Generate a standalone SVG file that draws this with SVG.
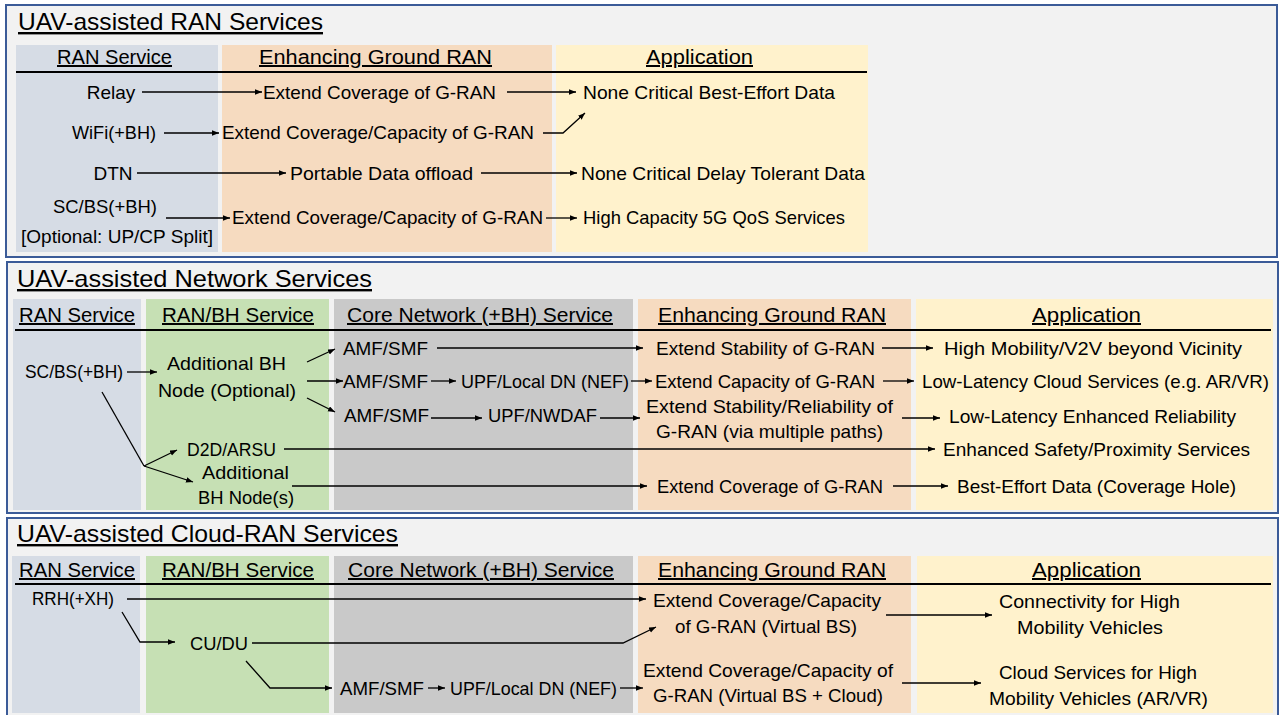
<svg xmlns="http://www.w3.org/2000/svg" width="1280" height="715" viewBox="0 0 1280 715">
<style>
text{font-family:"Liberation Sans",Arial,sans-serif;fill:#000}
.t{font-size:24px;text-decoration:underline}
.h{font-size:20px;text-decoration:underline}
.b{font-size:19px}
.m{font-size:19px;text-anchor:middle}
.panel{fill:#f2f2f2;stroke:#3b5b98;stroke-width:2}
.cb{fill:#d6dce5}.cp{fill:#f6dbc0}.cy{fill:#fff2cc}.cg{fill:#c6e0b4}.cgr{fill:#c9c9c9}
.hl{stroke:#000;stroke-width:2}
.c{fill:none;stroke:#000;stroke-width:1.3;marker-end:url(#a)}
.p{fill:none;stroke:#000;stroke-width:1.3}
</style>
<defs>
<marker id="a" markerUnits="userSpaceOnUse" markerWidth="8" markerHeight="6" refX="7" refY="2.75" orient="auto">
<path d="M0,0 L7,2.75 L0,5.5 z" fill="#000"/>
</marker>
</defs>

<g id="panel-ran">
<rect class="panel" x="6" y="5" width="1271" height="252"/>
<text class="t" x="18" y="30" textLength="305" lengthAdjust="spacingAndGlyphs">UAV-assisted RAN Services</text>
<rect class="cb" x="16" y="45" width="202" height="207"/>
<rect class="cp" x="222" y="45" width="330" height="207"/>
<rect class="cy" x="556" y="45" width="312" height="207"/>
<line class="hl" x1="16" y1="72" x2="867" y2="72"/>
<text class="h" x="57" y="64" textLength="115" lengthAdjust="spacingAndGlyphs">RAN Service</text>
<text class="h" x="259" y="64" textLength="233" lengthAdjust="spacingAndGlyphs">Enhancing Ground RAN</text>
<text class="h" x="646" y="64" textLength="107" lengthAdjust="spacingAndGlyphs">Application</text>
</g>

<g id="panel-network">
<rect class="panel" x="7" y="262" width="1271" height="251"/>
<text class="t" x="17" y="287" textLength="355" lengthAdjust="spacingAndGlyphs">UAV-assisted Network Services</text>
<rect class="cb" x="13" y="299" width="128" height="211"/>
<rect class="cg" x="146" y="299" width="183" height="211"/>
<rect class="cgr" x="334" y="299" width="299" height="211"/>
<rect class="cp" x="638" y="299" width="273" height="211"/>
<rect class="cy" x="916" y="299" width="357" height="211"/>
<line class="hl" x1="15" y1="330" x2="1271" y2="330"/>
<text class="h" x="19" y="322" textLength="116" lengthAdjust="spacingAndGlyphs">RAN Service</text>
<text class="h" x="162" y="322" textLength="152" lengthAdjust="spacingAndGlyphs">RAN/BH Service</text>
<text class="h" x="347" y="322" textLength="266" lengthAdjust="spacingAndGlyphs">Core Network (+BH) Service</text>
<text class="h" x="658" y="322" textLength="228" lengthAdjust="spacingAndGlyphs">Enhancing Ground RAN</text>
<text class="h" x="1032" y="322" textLength="109" lengthAdjust="spacingAndGlyphs">Application</text>
</g>

<g id="panel-cloud">
<rect class="panel" x="7" y="518" width="1271" height="205"/>
<text class="t" x="17" y="542" textLength="381" lengthAdjust="spacingAndGlyphs">UAV-assisted Cloud-RAN Services</text>
<rect class="cb" x="12" y="556" width="128" height="157"/>
<rect class="cg" x="146" y="556" width="183" height="157"/>
<rect class="cgr" x="334" y="556" width="299" height="157"/>
<rect class="cp" x="638" y="556" width="273" height="157"/>
<rect class="cy" x="917" y="556" width="356" height="157"/>
<line class="hl" x1="15" y1="584" x2="1271" y2="584"/>
<text class="h" x="19" y="577" textLength="116" lengthAdjust="spacingAndGlyphs">RAN Service</text>
<text class="h" x="162" y="577" textLength="152" lengthAdjust="spacingAndGlyphs">RAN/BH Service</text>
<text class="h" x="348" y="577" textLength="266" lengthAdjust="spacingAndGlyphs">Core Network (+BH) Service</text>
<text class="h" x="658" y="577" textLength="228" lengthAdjust="spacingAndGlyphs">Enhancing Ground RAN</text>
<text class="h" x="1032" y="577" textLength="109" lengthAdjust="spacingAndGlyphs">Application</text>
</g>

<!-- Panel 1 nodes -->
<g id="p1-relay"><text class="m" x="111" y="99">Relay</text></g>
<g id="p1-wifi"><text class="b" x="72" y="139" textLength="84" lengthAdjust="spacingAndGlyphs">WiFi(+BH)</text></g>
<g id="p1-dtn"><text class="m" x="113" y="180">DTN</text></g>
<g id="p1-scbs"><text class="b" x="53" y="213" textLength="104" lengthAdjust="spacingAndGlyphs">SC/BS(+BH)</text><text class="b" x="21" y="243" textLength="192" lengthAdjust="spacingAndGlyphs">[Optional: UP/CP Split]</text></g>
<g id="p1-ext-cov"><text class="b" x="263" y="99" textLength="233" lengthAdjust="spacingAndGlyphs">Extend Coverage of G-RAN</text></g>
<g id="p1-ext-covcap1"><text class="b" x="222" y="139" textLength="312" lengthAdjust="spacingAndGlyphs">Extend Coverage/Capacity of G-RAN</text></g>
<g id="p1-offload"><text class="b" x="290" y="180" textLength="183" lengthAdjust="spacingAndGlyphs">Portable Data offload</text></g>
<g id="p1-ext-covcap2"><text class="b" x="232" y="224" textLength="311" lengthAdjust="spacingAndGlyphs">Extend Coverage/Capacity of G-RAN</text></g>
<g id="p1-besteffort"><text class="b" x="583" y="99" textLength="252" lengthAdjust="spacingAndGlyphs">None Critical Best-Effort Data</text></g>
<g id="p1-delay"><text class="b" x="581" y="180" textLength="284" lengthAdjust="spacingAndGlyphs">None Critical Delay Tolerant Data</text></g>
<g id="p1-5g"><text class="b" x="583" y="224" textLength="262" lengthAdjust="spacingAndGlyphs">High Capacity 5G QoS Services</text></g>

<!-- Panel 2 nodes -->
<g id="p2-scbs"><text class="b" x="25" y="378" textLength="98" lengthAdjust="spacingAndGlyphs">SC/BS(+BH)</text></g>
<g id="p2-addbh"><text class="b" x="167" y="370" textLength="119" lengthAdjust="spacingAndGlyphs">Additional BH</text><text class="b" x="158" y="397" textLength="138" lengthAdjust="spacingAndGlyphs">Node (Optional)</text></g>
<g id="p2-d2d"><text class="b" x="187" y="456" textLength="89" lengthAdjust="spacingAndGlyphs">D2D/ARSU</text></g>
<g id="p2-addbhs"><text class="b" x="202" y="479" textLength="87" lengthAdjust="spacingAndGlyphs">Additional</text><text class="b" x="198" y="504" textLength="96" lengthAdjust="spacingAndGlyphs">BH Node(s)</text></g>
<g id="p2-amf1"><text class="b" x="343" y="355" textLength="85" lengthAdjust="spacingAndGlyphs">AMF/SMF</text></g>
<g id="p2-amf2"><text class="b" x="343" y="388" textLength="85" lengthAdjust="spacingAndGlyphs">AMF/SMF</text></g>
<g id="p2-upf-dn"><text class="b" x="461" y="388" textLength="168" lengthAdjust="spacingAndGlyphs">UPF/Local DN (NEF)</text></g>
<g id="p2-amf3"><text class="b" x="344" y="422" textLength="85" lengthAdjust="spacingAndGlyphs">AMF/SMF</text></g>
<g id="p2-upf-nwdaf"><text class="b" x="488" y="422" textLength="109" lengthAdjust="spacingAndGlyphs">UPF/NWDAF</text></g>
<g id="p2-ext-stab"><text class="b" x="656" y="355" textLength="219" lengthAdjust="spacingAndGlyphs">Extend Stability of G-RAN</text></g>
<g id="p2-ext-cap"><text class="b" x="655" y="388" textLength="220" lengthAdjust="spacingAndGlyphs">Extend Capacity of G-RAN</text></g>
<g id="p2-ext-rel"><text class="b" x="646" y="413" textLength="247" lengthAdjust="spacingAndGlyphs">Extend Stability/Reliability of</text><text class="b" x="656" y="438" textLength="227" lengthAdjust="spacingAndGlyphs">G-RAN (via multiple paths)</text></g>
<g id="p2-ext-cov"><text class="b" x="657" y="493" textLength="226" lengthAdjust="spacingAndGlyphs">Extend Coverage of G-RAN</text></g>
<g id="p2-mobility"><text class="b" x="944" y="355" textLength="298" lengthAdjust="spacingAndGlyphs">High Mobility/V2V beyond Vicinity</text></g>
<g id="p2-cloud"><text class="b" x="922" y="388" textLength="347" lengthAdjust="spacingAndGlyphs">Low-Latency Cloud Services (e.g. AR/VR)</text></g>
<g id="p2-reliab"><text class="b" x="949" y="423" textLength="287" lengthAdjust="spacingAndGlyphs">Low-Latency Enhanced Reliability</text></g>
<g id="p2-safety"><text class="b" x="943" y="456" textLength="307" lengthAdjust="spacingAndGlyphs">Enhanced Safety/Proximity Services</text></g>
<g id="p2-hole"><text class="b" x="957" y="493" textLength="279" lengthAdjust="spacingAndGlyphs">Best-Effort Data (Coverage Hole)</text></g>

<!-- Panel 3 nodes -->
<g id="p3-rrh"><text class="b" x="32" y="605" textLength="82" lengthAdjust="spacingAndGlyphs">RRH(+XH)</text></g>
<g id="p3-cudu"><text class="b" x="190" y="650" textLength="58" lengthAdjust="spacingAndGlyphs">CU/DU</text></g>
<g id="p3-amf"><text class="b" x="340" y="695" textLength="84" lengthAdjust="spacingAndGlyphs">AMF/SMF</text></g>
<g id="p3-upf"><text class="b" x="450" y="695" textLength="167" lengthAdjust="spacingAndGlyphs">UPF/Local DN (NEF)</text></g>
<g id="p3-ext-vbs"><text class="b" x="653" y="607" textLength="228" lengthAdjust="spacingAndGlyphs">Extend Coverage/Capacity</text><text class="b" x="675" y="633" textLength="182" lengthAdjust="spacingAndGlyphs">of G-RAN (Virtual BS)</text></g>
<g id="p3-ext-vbsc"><text class="b" x="643" y="677" textLength="250" lengthAdjust="spacingAndGlyphs">Extend Coverage/Capacity of</text><text class="b" x="653" y="702" textLength="230" lengthAdjust="spacingAndGlyphs">G-RAN (Virtual BS + Cloud)</text></g>
<g id="p3-conn"><text class="b" x="999" y="608" textLength="181" lengthAdjust="spacingAndGlyphs">Connectivity for High</text><text class="b" x="1017" y="634" textLength="146" lengthAdjust="spacingAndGlyphs">Mobility Vehicles</text></g>
<g id="p3-cloudsvc"><text class="b" x="999" y="679" textLength="198" lengthAdjust="spacingAndGlyphs">Cloud Services for High</text><text class="b" x="989" y="705" textLength="219" lengthAdjust="spacingAndGlyphs">Mobility Vehicles (AR/VR)</text></g>

<g id="connectors">
<line class="c" x1="142" y1="92" x2="262" y2="92"/>
<line class="c" x1="507" y1="92" x2="576" y2="92"/>
<line class="c" x1="164" y1="133" x2="219" y2="133"/>
<polyline class="c" points="543,133 563,133 585,113"/>
<line class="c" x1="137" y1="173" x2="286" y2="173"/>
<line class="c" x1="481" y1="173" x2="577" y2="173"/>
<line class="c" x1="166" y1="218" x2="230" y2="218"/>
<line class="c" x1="546" y1="218" x2="577" y2="218"/>

<line class="c" x1="127" y1="372" x2="157" y2="372"/>
<line class="c" x1="307" y1="362" x2="335" y2="349"/>
<line class="c" x1="307" y1="381" x2="343" y2="381"/>
<line class="c" x1="307" y1="398" x2="335" y2="412"/>
<line class="c" x1="437" y1="348" x2="643" y2="348"/>
<line class="c" x1="431" y1="381" x2="456" y2="381"/>
<line class="c" x1="631" y1="381" x2="652" y2="381"/>
<line class="c" x1="431" y1="418" x2="482" y2="418"/>
<line class="c" x1="600" y1="418" x2="640" y2="418"/>
<line class="c" x1="882" y1="348" x2="933" y2="348"/>
<line class="c" x1="883" y1="381" x2="914" y2="381"/>
<line class="c" x1="902" y1="418" x2="940" y2="418"/>
<line class="p" x1="102" y1="392" x2="144" y2="466"/>
<line class="c" x1="144" y1="466" x2="177" y2="450"/>
<line class="c" x1="144" y1="466" x2="193" y2="482"/>
<line class="c" x1="284" y1="449" x2="935" y2="449"/>
<line class="c" x1="292" y1="486" x2="647" y2="486"/>
<line class="c" x1="893" y1="486" x2="948" y2="486"/>

<line class="c" x1="127" y1="599" x2="646" y2="599"/>
<polyline class="c" points="122,612 140,642 175,642"/>
<polyline class="c" points="252,643 623,643 656,627"/>
<polyline class="c" points="246,661 270,688 332,688"/>
<line class="c" x1="428" y1="688" x2="445" y2="688"/>
<line class="c" x1="620" y1="688" x2="643" y2="688"/>
<line class="c" x1="886" y1="615" x2="992" y2="615"/>
<line class="c" x1="902" y1="683" x2="981" y2="683"/>
</g>
</svg>
